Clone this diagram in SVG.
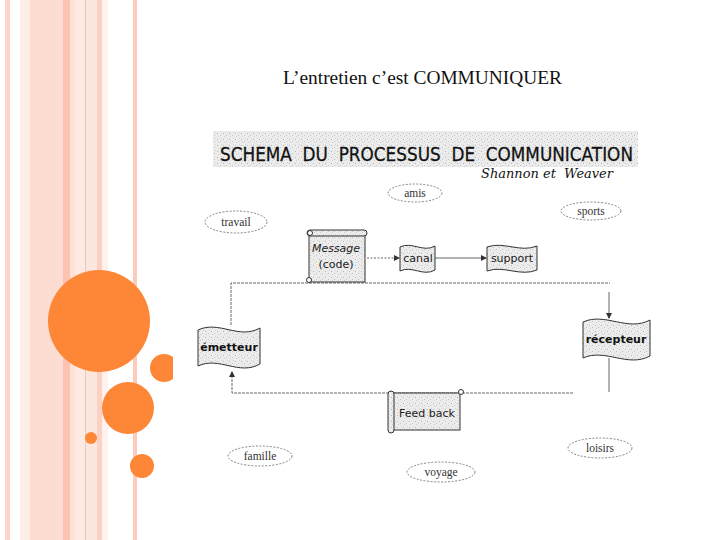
<svg xmlns="http://www.w3.org/2000/svg" width="720" height="540" viewBox="0 0 720 540">
<defs>
<pattern id="speck" width="6" height="6" patternUnits="userSpaceOnUse">
<rect width="6" height="6" fill="#ececec"/>
<rect x="1" y="1" width="1" height="1" fill="#b8b8b8"/>
<rect x="4" y="3" width="1" height="1" fill="#c4c4c4"/>
<rect x="2" y="4" width="1" height="1" fill="#d0d0d0"/>
<rect x="5" y="0" width="1" height="1" fill="#d4d4d4"/>
</pattern>
<marker id="arr" markerWidth="6" markerHeight="6" refX="5" refY="3" orient="auto" markerUnits="userSpaceOnUse">
<path d="M0,0 L6,3 L0,6 Z" fill="#333"/>
</marker>
<style>
.shape{fill:url(#speck);stroke:#333;stroke-width:1}
.ell{fill:#fff;stroke:#666;stroke-width:0.8;stroke-dasharray:2 1.5}
.et{font-family:"Liberation Serif",serif;font-size:11.5px;fill:#333;text-anchor:middle}
.nt{font-family:"DejaVu Sans",sans-serif;font-size:11px;fill:#222;text-anchor:middle}
.bt{font-family:"DejaVu Sans",sans-serif;font-size:11px;font-weight:bold;fill:#111;text-anchor:middle}
.conn{fill:none;stroke:#555;stroke-width:0.9}
</style>
</defs>

<!-- background stripes -->
<g id="stripes">
<rect x="0" y="0" width="720" height="540" fill="#fff"/>
<rect x="5" y="0" width="5" height="540" fill="#fcd5c8"/>
<rect x="20" y="0" width="10" height="540" fill="#fdeee8"/>
<rect x="30" y="0" width="33" height="540" fill="#fddcd2"/>
<rect x="63" y="0" width="7" height="540" fill="#fcc3b2"/>
<rect x="70" y="0" width="5" height="540" fill="#fde0d6"/>
<rect x="75" y="0" width="10" height="540" fill="#fdeae3"/>
<rect x="85" y="0" width="1" height="540" fill="#e8c8bd"/>
<rect x="86" y="0" width="11" height="540" fill="#fde6de"/>
<rect x="97" y="0" width="5" height="540" fill="#fcd0c2"/>
<rect x="102" y="0" width="6" height="540" fill="#fdf2ee"/>
<rect x="133" y="0" width="4" height="540" fill="#fccbbb"/>
</g>

<g id="circles" fill="#fd8737">
<circle cx="99" cy="321" r="51"/>
<circle cx="128" cy="408" r="26"/>
<circle cx="164" cy="368" r="14"/>
<circle cx="91" cy="438" r="6"/>
<circle cx="142" cy="466" r="12"/>
</g>

<!-- embedded diagram area (white) -->
<rect x="173" y="125" width="475" height="370" fill="#fff"/>

<g id="title">
<text x="283" y="84" font-family="Liberation Serif, serif" font-size="19" fill="#111" textLength="279" lengthAdjust="spacingAndGlyphs">L’entretien c’est COMMUNIQUER</text>
</g>

<g id="header">
<rect x="213" y="131" width="425" height="36" fill="url(#speck)"/>
<text x="220" y="161" xml:space="preserve" style="white-space:pre" font-family="DejaVu Sans, sans-serif" font-size="20" fill="#111" stroke="#111" stroke-width="0.3" textLength="413" lengthAdjust="spacingAndGlyphs">SCHEMA  DU  PROCESSUS  DE  COMMUNICATION</text>
<text x="481" y="178" xml:space="preserve" style="white-space:pre" font-family="DejaVu Serif, serif" font-style="italic" font-size="12" fill="#111" textLength="132" lengthAdjust="spacingAndGlyphs">Shannon et  Weaver</text>
</g>

<g id="connectors">
<path class="conn" d="M367,258 H399" stroke-dasharray="2 1.5" marker-end="url(#arr)"/>
<path class="conn" d="M435,258 H486" marker-end="url(#arr)"/>
<path class="conn" d="M231,325 V283 H610" stroke-dasharray="3 1"/>
<path class="conn" d="M609,292 V318" stroke="#999" marker-end="url(#arr)"/>
<path class="conn" d="M609,358 V392"/>
<path class="conn" d="M573,393 H232 V372" stroke-dasharray="3 1" marker-end="url(#arr)"/>
</g>

<g id="amis"><ellipse class="ell" cx="415" cy="193" rx="27" ry="9"/><text class="et" x="415" y="197">amis</text></g>
<g id="travail"><ellipse class="ell" cx="236" cy="222" rx="31" ry="11"/><text class="et" x="236" y="226">travail</text></g>
<g id="sports"><ellipse class="ell" cx="591" cy="211" rx="30" ry="9"/><text class="et" x="591" y="215">sports</text></g>
<g id="famille"><ellipse class="ell" cx="260" cy="456" rx="32" ry="10"/><text class="et" x="260" y="460">famille</text></g>
<g id="voyage"><ellipse class="ell" cx="441" cy="472" rx="34" ry="10"/><text class="et" x="441" y="476">voyage</text></g>
<g id="loisirs"><ellipse class="ell" cx="600" cy="448" rx="32" ry="10"/><text class="et" x="600" y="452">loisirs</text></g>

<g id="message">
<rect class="shape" x="309" y="234" width="56" height="48"/>
<rect class="shape" x="307" y="230" width="60" height="6" rx="3"/>
<circle cx="310" cy="233" r="2.5" fill="#fff" stroke="#333"/>
<circle cx="309" cy="280" r="2.5" fill="#fff" stroke="#333"/>
<text class="nt" x="336" y="252" font-size="12" font-style="italic">Message</text>
<text class="nt" x="336" y="268" font-size="12">(code)</text>
</g>

<g id="canal">
<path class="shape" d="M400,247 C412,241 423,253 435,246 V270 C423,277 412,265 400,271 Z"/>
<text class="nt" x="418" y="262">canal</text>
</g>

<g id="support">
<path class="shape" d="M487,247 C504,241 520,253 537,246 V270 C520,277 504,265 487,271 Z"/>
<text class="nt" x="512" y="262">support</text>
</g>

<g id="emetteur">
<path class="shape" d="M198,330 C219,320 239,340 260,328 V364 C239,376 219,356 198,366 Z"/>
<text class="bt" x="229" y="351">émetteur</text>
</g>

<g id="recepteur">
<path class="shape" d="M583,322 C605,312 628,332 650,320 V356 C628,368 605,348 583,358 Z"/>
<text class="bt" x="616" y="343">récepteur</text>
</g>

<g id="feedback">
<rect class="shape" x="392" y="393" width="68" height="37"/>
<rect class="shape" x="388" y="391" width="6" height="42" rx="3"/>
<circle cx="461" cy="392" r="2.5" fill="#fff" stroke="#333"/>
<text class="nt" x="427" y="417" font-size="12">Feed back</text>
</g>
</svg>
